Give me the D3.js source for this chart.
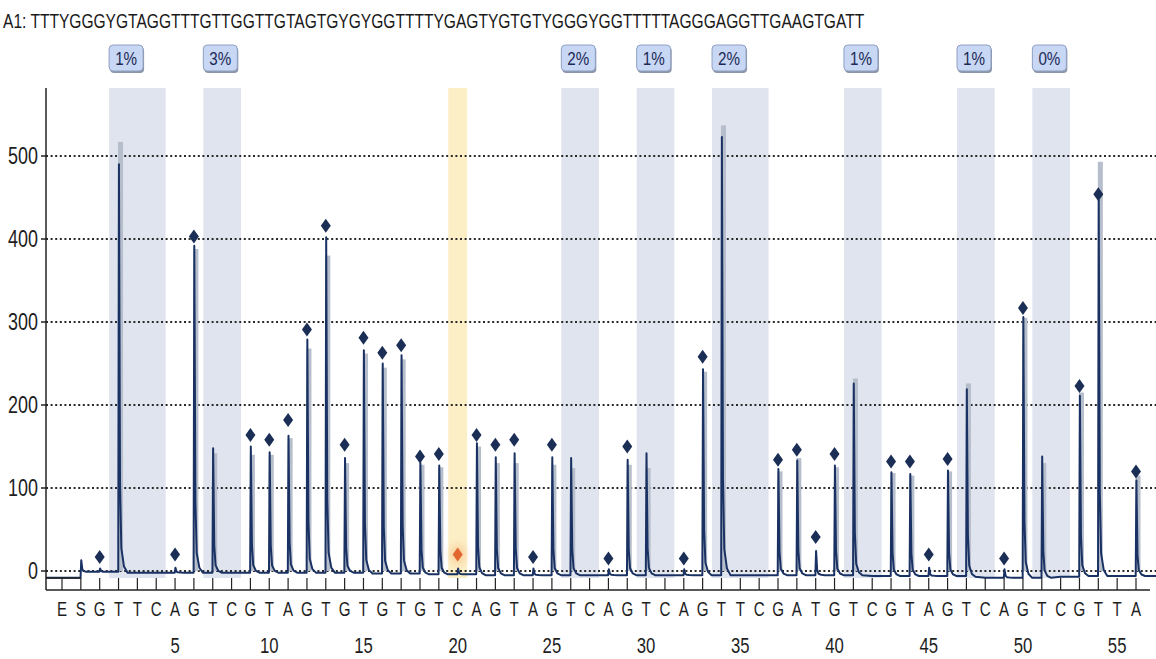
<!DOCTYPE html>
<html>
<head>
<meta charset="utf-8">
<script src="https://cdn.jsdelivr.net/npm/d3@7/dist/d3.min.js"></script>
<style>
  html, body { margin: 0; padding: 0; background: #fff; }
  svg { display: block; }
  .narrow { font-family: "Liberation Sans", Arial, sans-serif; }
</style>
</head>
<body>
<svg id="chart" width="1156" height="659"></svg>
<script>
// Sample well and its sequence to analyse
const wellName = "A1:";
const sequence = "TTTYGGGYGTAGGTTTGTTGGTTGTAGTGYGYGGTTTTYGAGTYGTGTYGGGYGGTTTTTAGGGAGGTTGAAGTGATT";

// Dispensation order: E (enzyme), S (substrate), then nucleotides 1..56
const dispensations = ["E","S",
  "G","T","T","C","A","G","T","C","G","T",
  "A","G","T","G","T","G","T","G","T","C",
  "A","G","T","A","G","T","C","A","G","T",
  "C","A","G","T","T","C","G","A","T","G",
  "T","C","G","T","A","G","T","C","A","G",
  "T","C","G","T","T","A"];
const positions = d3.range(-1, 57);            // -1 = E, 0 = S, 1..56

// Measured light signal at each dispensation (trace peak height)
const peakHeights = [0, 13,
  3, 490, 0, 0, 4, 392, 148, 0, 150, 143,
  163, 279, 402, 136, 266, 250, 260, 130, 127, 3,
  154, 137, 142, 3, 137, 136, 0, 2, 134, 142,
  0, 2, 243, 523, 0, 0, 123, 133, 24, 127,
  226, 0, 119, 117, 4, 121, 219, 0, 2, 306,
  138, 0, 211, 447, 0, 109];

// Trace baseline level under each dispensation
const baselineLevels = [-8, -1,
  -1, -2, -2, -2, -2, -2, -2, -2, -2, -2,
  -2, -2, -2, -2, -3, -3, -3, -4, -4, -4,
  -5, -5, -5, -5, -5, -5, -5, -5, -5, -5,
  -5, -5, -5, -5, -5, -5, -5, -5, -5, -5,
  -5, -6, -6, -6, -6, -6, -7, -8, -8, -8,
  -8, -7, -6, -6, -6, -6];

// Expected peak pattern (histogram bars)
const expectedHeights = [0, 0,
  0, 517, 0, 0, 0, 388, 142, 0, 140, 140,
  160, 268, 380, 130, 262, 245, 255, 128, 125, 0,
  150, 130, 130, 0, 128, 124, 0, 0, 128, 124,
  0, 0, 240, 537, 0, 0, 120, 136, 0, 125,
  232, 0, 118, 115, 0, 120, 226, 0, 0, 305,
  130, 0, 215, 493, 0, 115];

// Peak markers (null = no marker)
const markerValues = [null, null,
  17, null, null, null, 20, 403, null, null, 164, 158,
  182, 291, 416, 152, 281, 263, 272, 138, 141, 20,
  164, 152, 158, 17, 152, null, null, 15, 150, null,
  null, 15, 258, null, null, null, 134, 146, 41, 141,
  null, null, 132, 132, 20, 135, null, null, 15, 317,
  null, null, 223, 454, null, 120];
const controlPosition = 20;                    // highlighted control dispensation

// Variable positions: first and last dispensation, and methylation result
const variableStart = [2, 7, 26, 30, 34, 41, 47, 51];
const variableEnd   = [4, 8, 27, 31, 36, 42, 48, 52];
const variableLabels = ["1%", "3%", "2%", "1%", "2%", "1%", "1%", "0%"];

// Axis ticks
const yTicks = [0, 100, 200, 300, 400, 500];
const xNumberTicks = [5, 10, 15, 20, 25, 30, 35, 40, 45, 50, 55];

const svg = d3.select("#chart");

const x = d3.scaleLinear().domain([-1, 56]).range([62, 1136]);
const y = d3.scaleLinear().domain([0, 500]).range([571, 156]);

const plotLeft = 46, plotRight = 1156, plotTop = 88, axisY = 590, tickTop = 578;
const halfStep = (x(1) - x(0)) / 2;

function narrowText(sel, size) {
  return sel.attr("class", "narrow")
    .attr("font-size", size)
    .attr("fill", "#1e1e1e");
}

// Shaded variable regions
svg.append("g").selectAll("rect")
  .data(variableStart.map((s, i) => ({ s, e: variableEnd[i] })))
  .join("rect")
  .attr("x", d => x(d.s) - halfStep)
  .attr("width", d => x(d.e) - x(d.s) + 2 * halfStep)
  .attr("y", plotTop)
  .attr("height", tickTop - plotTop)
  .attr("fill", "#dfe4ee");

// Control highlight
svg.append("rect")
  .attr("x", x(controlPosition) - halfStep)
  .attr("width", 2 * halfStep)
  .attr("y", plotTop)
  .attr("height", tickTop - plotTop)
  .attr("fill", "#fcefc6");

// Dotted grid lines
svg.append("g").selectAll("line")
  .data(yTicks)
  .join("line")
  .attr("x1", plotLeft).attr("x2", plotRight)
  .attr("y1", d => y(d)).attr("y2", d => y(d))
  .attr("stroke", "#2a2a2a")
  .attr("stroke-width", 2)
  .attr("stroke-dasharray", "2,2.6");

// Expected histogram bars
const peakData = positions.map((p, i) => ({
  p, letter: dispensations[i], h: peakHeights[i], b: baselineLevels[i],
  exp: expectedHeights[i], m: markerValues[i]
}));

svg.append("g").selectAll("rect")
  .data(peakData.filter(d => d.exp > 0))
  .join("rect")
  .attr("x", d => x(d.p) - 0.5)
  .attr("width", 5)
  .attr("y", d => y(d.exp))
  .attr("height", d => y(0) - y(d.exp))
  .attr("fill", "#b6bdcb");

// Pyrogram trace
const tracePoints = [[plotLeft, baselineLevels[0]]];
peakData.forEach((d, i) => {
  const x0 = x(d.p);
  if (d.p === -1) { tracePoints.push([x0, d.b]); return; }
  if (d.h > 0) {
    const prevB = i > 0 ? peakData[i - 1].b : d.b;
    const span = d.h - d.b;
    tracePoints.push([x0 - 0.3, prevB]);
    tracePoints.push([x0 + 0.4, d.h]);
    tracePoints.push([x0 + 1.5, d.b + 0.22 * span]);
    tracePoints.push([x0 + 2.8, d.b + 0.06 * span]);
    tracePoints.push([x0 + 5.5, d.b + 0.015 * span]);
    tracePoints.push([x0 + 9.0, d.b]);
  } else {
    tracePoints.push([x0, d.b]);
  }
});
tracePoints.push([plotRight, baselineLevels[baselineLevels.length - 1]]);

svg.append("path")
  .datum(tracePoints)
  .attr("fill", "none")
  .attr("stroke", "#1a3263")
  .attr("stroke-width", 2)
  .attr("stroke-linejoin", "round")
  .attr("d", d3.line().x(d => d[0]).y(d => y(d[1])));

// Glow for the control marker
const defs = svg.append("defs");
defs.append("filter").attr("id", "glow")
  .attr("x", "-100%").attr("y", "-100%").attr("width", "300%").attr("height", "300%")
  .append("feGaussianBlur").attr("stdDeviation", 3);

const diamond = "M0,-7L5,0L0,7L-5,0Z";
const markers = peakData.filter(d => d.m !== null);
svg.append("g").selectAll("path.glow")
  .data(markers.filter(d => d.p === controlPosition))
  .join("path")
  .attr("d", diamond)
  .attr("transform", d => `translate(${x(d.p)},${y(d.m)}) scale(1.6)`)
  .attr("fill", "#f6b27a")
  .attr("opacity", 0.7)
  .attr("filter", "url(#glow)");
svg.append("g").selectAll("path.marker")
  .data(markers)
  .join("path")
  .attr("d", diamond)
  .attr("transform", d => `translate(${x(d.p)},${y(d.m)})`)
  .attr("fill", d => d.p === controlPosition ? "#e2672e" : "#1b2e55");

// Y axis
svg.append("line")
  .attr("x1", plotLeft).attr("x2", plotLeft)
  .attr("y1", plotTop).attr("y2", axisY)
  .attr("stroke", "#222").attr("stroke-width", 1.5);
svg.append("g").selectAll("line")
  .data(yTicks)
  .join("line")
  .attr("x1", plotLeft - 5).attr("x2", plotLeft)
  .attr("y1", d => y(d)).attr("y2", d => y(d))
  .attr("stroke", "#222").attr("stroke-width", 1.5);
svg.append("g").selectAll("text")
  .data(yTicks)
  .join("text")
  .call(narrowText, 23)
  .attr("transform", d => `translate(${plotLeft - 8},${y(d) + 8}) scale(0.78,1)`)
  .attr("text-anchor", "end")
  .text(d => d);

// Solid line under E/S region
svg.append("line")
  .attr("x1", plotLeft).attr("x2", x(0))
  .attr("y1", tickTop).attr("y2", tickTop)
  .attr("stroke", "#222").attr("stroke-width", 1.5);

// X axis with dispensation ticks
svg.append("line")
  .attr("x1", plotLeft).attr("x2", 1150)
  .attr("y1", axisY).attr("y2", axisY)
  .attr("stroke", "#222").attr("stroke-width", 1.5);
svg.append("g").selectAll("line")
  .data(positions)
  .join("line")
  .attr("x1", d => x(d)).attr("x2", d => x(d))
  .attr("y1", tickTop).attr("y2", axisY)
  .attr("stroke", "#222").attr("stroke-width", 1.2);
svg.append("g").selectAll("text")
  .data(peakData)
  .join("text")
  .call(narrowText, 21)
  .attr("transform", d => `translate(${x(d.p)},616) scale(0.72,1)`)
  .attr("text-anchor", "middle")
  .text(d => d.letter);
svg.append("g").selectAll("text")
  .data(xNumberTicks)
  .join("text")
  .call(narrowText, 22)
  .attr("transform", d => `translate(${x(d)},653) scale(0.76,1)`)
  .attr("text-anchor", "middle")
  .text(d => d);

// Methylation result labels
const labelGroup = svg.append("g").selectAll("g")
  .data(variableStart.map((s, i) => ({ s, label: variableLabels[i] })))
  .join("g")
  .attr("transform", d => `translate(${x(d.s) - halfStep},45)`);
labelGroup.append("rect")
  .attr("x", 1).attr("y", 2).attr("width", 34).attr("height", 26).attr("rx", 4)
  .attr("fill", "#8d96a8");
labelGroup.append("rect")
  .attr("x", 0).attr("y", 0).attr("width", 34).attr("height", 26).attr("rx", 4)
  .attr("fill", "#c8d7f4").attr("stroke", "#8fa0c2").attr("stroke-width", 1);
labelGroup.append("text")
  .attr("class", "narrow")
  .attr("font-size", 19)
  .attr("fill", "#1c2a55")
  .attr("transform", "translate(17,20) scale(0.8,1)")
  .attr("text-anchor", "middle")
  .text(d => d.label);

// Sequence header, squeezed horizontally to a fixed line width
const headerWidth = 862;
const header = svg.append("text")
  .attr("class", "narrow")
  .attr("font-size", 21)
  .attr("fill", "#1a1a1a")
  .text(`${wellName} ${sequence}`);
const naturalWidth = header.node().getComputedTextLength();
header.attr("transform", `translate(3,28) scale(${headerWidth / naturalWidth},1)`);
</script>
</body>
</html>
